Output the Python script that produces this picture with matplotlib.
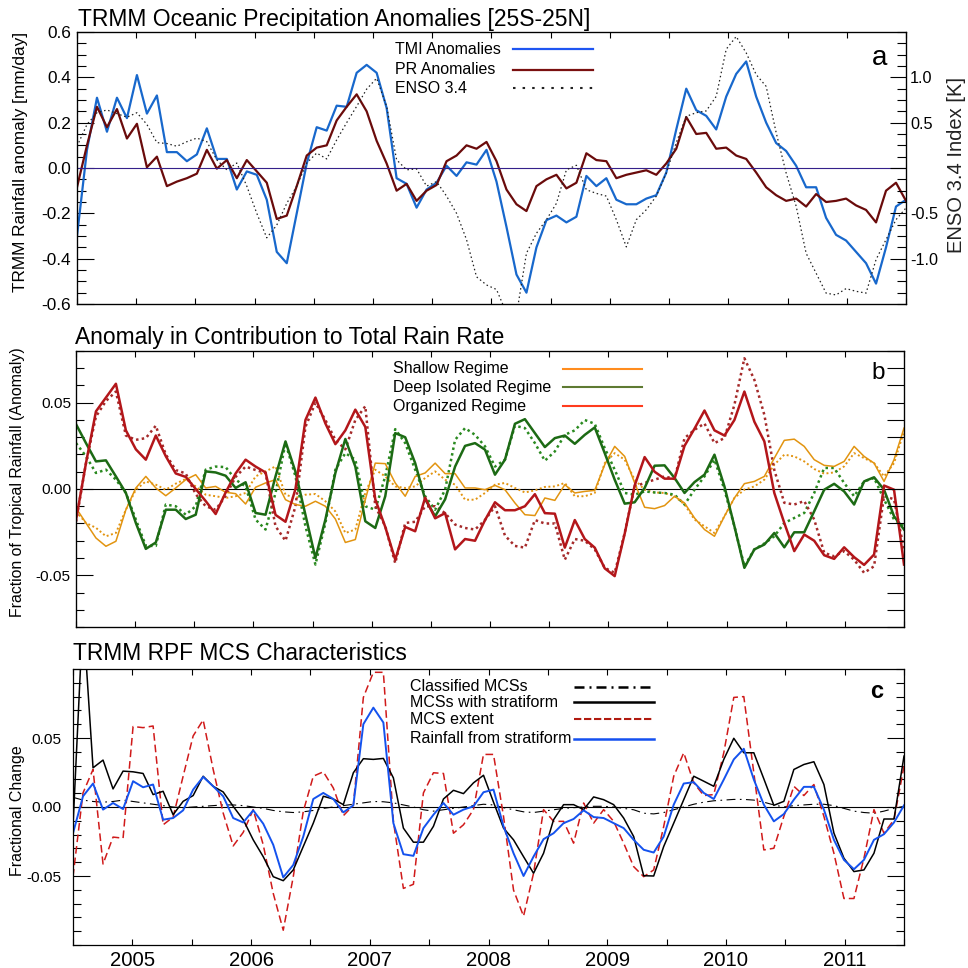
import numpy as np
import matplotlib
matplotlib.use("Agg")
import matplotlib.pyplot as plt
from matplotlib.ticker import MultipleLocator, FixedLocator, FuncFormatter

plt.rcParams['font.family'] = ['Liberation Sans', 'DejaVu Sans']
plt.rcParams['axes.unicode_minus'] = False

# ---- datos (anomalías mensuales, jul 2004 - jun 2011) ----
n_months = 84
years = [2005, 2006, 2007, 2008, 2009, 2010, 2011]

tmi = [-0.30, 0.08, 0.31, 0.16, 0.31, 0.22, 0.41, 0.24, 0.32, 0.07,
       0.07, 0.03, 0.06, 0.175, 0.04, 0.04, -0.095, -0.015, -0.03, -0.14,
       -0.37, -0.42, -0.20, 0.02, 0.18, 0.165, 0.275, 0.27, 0.42, 0.455,
       0.42, 0.265, -0.045, -0.07, -0.175, -0.095, -0.065, 0.01, -0.035, 0.025,
       0.015, 0.08, -0.06, -0.26, -0.47, -0.55, -0.35, -0.23, -0.21, -0.24,
       -0.215, -0.035, -0.08, -0.045, -0.14, -0.16, -0.16, -0.135, -0.12, -0.02,
       0.17, 0.35, 0.255, 0.23, 0.17, 0.315, 0.415, 0.47, 0.315, 0.20,
       0.11, 0.075, 0.01, -0.085, -0.085, -0.22, -0.295, -0.32, -0.37, -0.42,
       -0.51, -0.35, -0.17, -0.14]

pr = [-0.085, 0.10, 0.27, 0.18, 0.26, 0.13, 0.195, 0.003, 0.05, -0.08,
      -0.06, -0.045, -0.025, 0.08, -0.003, 0.035, -0.045, 0.035, -0.015, -0.065,
      -0.225, -0.21, -0.08, 0.055, 0.09, 0.10, 0.21, 0.27, 0.325, 0.25,
      0.12, 0.02, -0.10, -0.07, -0.145, -0.10, -0.075, 0.03, 0.055, 0.10,
      0.085, 0.115, 0.03, -0.095, -0.16, -0.19, -0.08, -0.05, -0.03, -0.09,
      -0.065, 0.065, 0.035, 0.03, -0.045, -0.03, -0.02, -0.01, -0.03, 0.02,
      0.085, 0.225, 0.15, 0.155, 0.085, 0.09, 0.055, 0.04, -0.02, -0.085,
      -0.12, -0.145, -0.135, -0.17, -0.115, -0.15, -0.145, -0.135, -0.165, -0.185,
      -0.24, -0.10, -0.065, -0.145]

enso = [0.24, 0.48, 0.61, 0.64, 0.60, 0.56, 0.61, 0.48, 0.28, 0.27,
        0.24, 0.29, 0.33, 0.29, 0.09, -0.02, 0.055, -0.20, -0.50, -0.77,
        -0.63, -0.39, -0.20, 0.055, 0.165, 0.10, 0.31, 0.50, 0.68, 0.87,
        0.99, 0.68, 0.09, -0.02, -0.01, -0.20, -0.15, -0.31, -0.50, -0.79,
        -1.20, -1.29, -1.34, -1.60, -1.62, -0.94, -0.72, -0.57, -0.39, -0.02,
        0.03, -0.24, -0.28, -0.31, -0.57, -0.87, -0.57, -0.46, -0.31, -0.055,
        0.28, 0.57, 0.61, 0.63, 0.79, 1.31, 1.45, 1.27, 1.03, 0.90,
        0.39, -0.055, -0.42, -0.94, -1.16, -1.38, -1.40, -1.33, -1.36, -1.38,
        -1.01, -0.79, -0.57, -0.44]

organized = [-0.018, 0.015, 0.045, 0.053, 0.061, 0.034, 0.023, 0.017, 0.031, 0.019,
             0.009, 0.007, 0.0, -0.007, -0.0145, -0.002, 0.009, 0.017, 0.013, 0.0096,
             -0.015, -0.019, 0.0, 0.040, 0.053, 0.038, 0.026, 0.034, 0.046, 0.036,
             -0.006, -0.022, -0.041, -0.022, -0.0245, -0.005, -0.017, -0.014, -0.035, -0.029,
             -0.030, -0.018, -0.0077, -0.0123, -0.0123, -0.010, -0.003, -0.014, -0.0143, -0.034,
             -0.018, -0.029, -0.034, -0.046, -0.0505, -0.026, 0.002, 0.0185, 0.010, 0.006,
             0.006, 0.025, 0.035, 0.0455, 0.034, 0.031, 0.040, 0.0565, 0.039, 0.0276,
             -0.0023, -0.0197, -0.036, -0.0264, -0.030, -0.0384, -0.0405, -0.0338, -0.0395, -0.044,
             -0.038, 0.002, -0.0004, -0.0438]

organized_dot = [-0.019, 0.015, 0.042, 0.051, 0.0565, 0.031, 0.0285, 0.0295, 0.0367, 0.020,
                 0.011, 0.009, -0.003, -0.010, -0.012, -0.004, 0.007, 0.013, 0.011, 0.0093,
                 -0.0216, -0.030, -0.010, 0.036, 0.050, 0.040, 0.0285, 0.023, 0.040, 0.048,
                 -0.010, -0.0216, -0.043, -0.0197, -0.019, -0.010, -0.010, -0.014, -0.0206, -0.0226,
                 -0.0235, -0.018, -0.010, -0.027, -0.033, -0.034, -0.018, -0.020, -0.020, -0.041,
                 -0.029, -0.030, -0.035, -0.0457, -0.0486, -0.0255, 0.0015, 0.0035, 0.0054, 0.0073,
                 0.0058, 0.0295, 0.0343, 0.038, 0.0266, 0.0295, 0.0488, 0.0758, 0.0633, 0.043,
                 0.011, -0.008, -0.009, -0.007, -0.0177, -0.037, -0.039, -0.036, -0.041, -0.0486,
                 -0.0448, -0.004, -0.006, -0.035]

deep = [0.0376, 0.0266, 0.016, 0.0166, 0.0073, -0.0023, -0.0197, -0.0347, -0.031, -0.012,
        -0.012, -0.0174, -0.0149, 0.0102, 0.0096, 0.0077, 0.0006, 0.0039, -0.0139, -0.0149,
        0.0073, 0.0276, 0.010, -0.015, -0.040, -0.0177, 0.0093, 0.029, 0.013, -0.0187,
        -0.0226, -0.0042, 0.0324, 0.030, 0.015, -0.006, -0.0158, -0.006, 0.013, 0.025,
        0.0266, 0.0228, 0.0083, 0.017, 0.0378, 0.0405, 0.0324, 0.0243, 0.0295, 0.031,
        0.0262, 0.0314, 0.0357, 0.0208, 0.0054, -0.0085, -0.0077, 0.0006, 0.0135, 0.0137,
        0.0064, -0.0023, 0.004, 0.0083, 0.0199, 0.0015, -0.0216, -0.0457, -0.035, -0.0322,
        -0.0255, -0.0338, -0.0251, -0.0251, -0.0129, -0.0004, 0.003, -0.0014, -0.009, 0.0044,
        0.0068, -0.0004, -0.0158, -0.0235]

deep_dot = [0.0266, 0.019, 0.0093, 0.0112, 0.0054, -0.0023, -0.0177, -0.033, -0.033, -0.009,
            -0.010, -0.0149, -0.010, 0.0112, 0.013, 0.0127, 0.0054, 0.0015, -0.0177, -0.0235,
            -0.0023, 0.0266, 0.0073, -0.0216, -0.0438, -0.0197, 0.0112, 0.0208, 0.017, -0.010,
            -0.012, 0.0073, 0.0347, 0.0266, 0.0112, -0.0042, -0.012, -0.0004, 0.0285, 0.0353,
            0.0314, 0.0247, 0.013, 0.017, 0.0367, 0.0353, 0.0266, 0.0164, 0.0218, 0.0314,
            0.034, 0.040, 0.0378, 0.0237, 0.0112, -0.0023, -0.0033, -0.0014, -0.002, -0.0023,
            -0.0033, -0.009, -0.0004, 0.0073, 0.017, -0.0004, -0.0216, -0.0448, -0.035, -0.0316,
            -0.0274, -0.0197, -0.0168, -0.0139, -0.0023, 0.0122, 0.0122, 0.0035, -0.0042, 0.0044,
            0.0064, -0.006, -0.0177, -0.0216]

shallow = [-0.011, -0.0197, -0.0284, -0.0332, -0.0303, -0.012, 0.0006, 0.0073, 0.0006, -0.0039,
           0.0006, 0.0054, 0.0083, 0.0006, 0.0015, -0.0019, -0.0027, -0.0087, 0.001, 0.0035,
           0.0054, -0.0062, -0.009, -0.010, -0.0071, -0.010, -0.0174, -0.031, -0.0293, -0.0062,
           0.015, 0.0147, 0.0035, -0.0042, 0.0073, 0.0093, 0.015, 0.0089, 0.0089, 0.0006,
           0.0006, -0.0004, 0.0021, -0.0004, -0.0081, -0.0149, -0.0154, -0.0052, -0.0066, 0.0025,
           -0.0023, -0.0014, -0.0008, 0.0141, 0.0247, 0.0189, 0.0035, -0.0106, -0.0114, -0.0096,
           -0.0042, -0.0081, -0.0168, -0.0235, -0.0274, -0.0158, -0.0052, 0.0031, 0.0044, 0.0073,
           0.0179, 0.0282, 0.0289, 0.0247, 0.017, 0.0137, 0.0131, 0.016, 0.0247, 0.0189,
           0.015, 0.0044, 0.017, 0.0353]

shallow_dot = [-0.013, -0.0197, -0.0225, -0.0274, -0.0255, -0.012, -0.0004, 0.0044, 0.0025, -0.0004,
               0.0031, 0.0058, 0.0015, -0.0033, -0.0042, -0.0052, -0.0042, -0.0023, 0.0073, 0.0102,
               0.0131, -0.0033, -0.0052, -0.0033, -0.0029, -0.0071, -0.013, -0.0255, -0.0235, -0.0023,
               0.0112, 0.0073, 0.0015, 0.0006, 0.0015, 0.0064, 0.0102, 0.0054, 0.0025, -0.0062,
               -0.0062, -0.0023, 0.0025, 0.0035, 0.0006, -0.002, -0.0008, 0.0012, 0.0015, 0.0035,
               -0.0042, -0.0042, -0.0023, 0.015, 0.0208, 0.017, 0.0054, -0.0004, -0.002, -0.0023,
               -0.0042, -0.009, -0.0177, -0.0216, -0.0255, -0.0158, -0.0052, -0.0004, 0.0015, 0.0054,
               0.0141, 0.0199, 0.0189, 0.016, 0.0116, 0.0089, 0.0096, 0.0131, 0.0208, 0.0179,
               0.015, 0.0073, 0.015, 0.0334]

classified = [0.007, 0.005, 0.004, 0.0035, 0.004, 0.005, 0.004, 0.003, 0.002, 0.001,
              0.0, -0.0005, 0.0, 0.0005, 0.001, 0.0015, 0.0015, 0.001, 0.0, -0.001,
              -0.0025, -0.0035, -0.004, -0.0035, -0.0025, -0.001, 0.0, 0.001, 0.002, 0.003,
              0.004, 0.0038, 0.003, 0.0015, 0.0, -0.002, -0.003, -0.002, -0.001, 0.0,
              0.001, 0.002, 0.0015, -0.0005, -0.002, -0.0035, -0.004, -0.003, -0.002, -0.001,
              -0.0005, 0.0, 0.0005, 0.0005, 0.0, -0.001, -0.002, -0.0045, -0.005, -0.004,
              -0.002, 0.0, 0.002, 0.0035, 0.0045, 0.005, 0.0055, 0.0055, 0.005, 0.0035,
              0.0015, 0.0, 0.001, 0.0015, 0.002, 0.002, 0.001, -0.001, -0.003, -0.004,
              -0.0045, -0.003, -0.001, 0.0005]

mcs_strat = [-0.014, 0.14, 0.0284, 0.034, 0.0131, 0.026, 0.0255, 0.0243, 0.009, 0.0114,
             -0.0056, 0.0041, 0.0083, 0.0223, 0.015, 0.0109, 0.0005, -0.0092, -0.0238, -0.036,
             -0.0505, -0.0534, -0.0456, -0.0286, -0.0117, 0.0078, 0.0058, 0.0017, 0.0248, 0.035,
             0.0345, 0.0352, 0.0211, -0.0153, -0.0255, -0.0255, -0.014, 0.0058, 0.0121, 0.0097,
             0.0175, 0.023, 0.0035, -0.0153, -0.0238, -0.036, -0.048, -0.0335, -0.0092, 0.0017,
             0.0017, -0.0019, 0.0073, 0.0053, 0.0017, -0.008, -0.0214, -0.0498, -0.05, -0.0286,
             -0.0117, 0.0053, 0.0223, 0.0187, 0.015, 0.0345, 0.0498, 0.0393, 0.0393, 0.0204,
             0.0012, 0.0041, 0.0272, 0.0308, 0.0328, 0.0163, -0.0189, -0.0371, -0.0468, -0.0456,
             -0.0335, -0.0087, -0.0087, 0.0369]

mcs_extent = [-0.0505, 0.0102, 0.0272, -0.0413, -0.0218, -0.0226, 0.0583, 0.0575, 0.0587, -0.0129,
              -0.0073, 0.0223, 0.0515, 0.0631, 0.0272, -0.0044, -0.0282, -0.0184, -0.0019, -0.0274,
              -0.0626, -0.0893, -0.0505, -0.0032, 0.0223, 0.0255, 0.0138, -0.0063, 0.0012, 0.0794,
              0.0976, 0.0976, -0.0104, -0.059, -0.056, 0.0102, 0.0248, 0.0243, -0.019, -0.0129,
              -0.0019, 0.0381, 0.0381, -0.0068, -0.0602, -0.0791, -0.048, -0.0019, -0.0104, -0.0104,
              -0.0262, 0.0029, -0.0117, -0.0019, -0.0104, -0.0262, -0.0432, -0.0505, -0.0456, -0.0141,
              0.0223, 0.0393, 0.0175, 0.0083, 0.009, 0.0393, 0.0794, 0.080, 0.0248, -0.0311,
              -0.0299, -0.0068, 0.015, 0.0083, 0.0163, -0.0068, -0.0335, -0.0663, -0.0663, -0.0371,
              -0.0019, -0.019, -0.0092, 0.0296]

rain_strat = [-0.019, 0.0078, 0.017, -0.0019, 0.0029, -0.0015, 0.0187, 0.0143, 0.0163, -0.0092,
              -0.008, -0.0024, 0.0126, 0.0218, 0.015, 0.0078, -0.008, -0.0112, -0.0024, -0.0121,
              -0.0274, -0.051, -0.042, -0.0214, 0.0058, 0.0102, 0.0058, -0.0039, 0.0012, 0.060,
              0.072, 0.0612, -0.0117, -0.0342, -0.0354, -0.0153, -0.0056, 0.0029, -0.0056, -0.0019,
              0.0005, 0.0107, 0.0126, -0.014, -0.0335, -0.05, -0.0359, -0.0233, -0.019, -0.0117,
              -0.0087, -0.0024, -0.0073, -0.008, -0.0117, -0.0153, -0.0238, -0.031, -0.033, -0.0214,
              0.0017, 0.017, 0.018, 0.0102, 0.0058, 0.0199, 0.0345, 0.0422, 0.0199, 0.0017,
              -0.0104, -0.0051, 0.0053, 0.0146, 0.0146, -0.0019, -0.0238, -0.0383, -0.0451, -0.0383,
              -0.0238, -0.0197, -0.0112, 0.0012]

t = np.linspace(2004.5, 2011.5, n_months)

fig = plt.figure(figsize=(9.68, 9.68), dpi=100)
W = H = 968.0


def caja(x0, x1, y0, y1):
    # píxeles -> fracción de figura
    return [x0 / W, 1 - y1 / H, (x1 - x0) / W, (y1 - y0) / H]


def eje_tiempo(ax, etiquetas=False):
    ax.set_xlim(2004.5, 2011.5)
    ax.xaxis.set_major_locator(FixedLocator(years))
    ax.xaxis.set_minor_locator(MultipleLocator(0.5))
    ax.tick_params(axis='x', which='both', direction='in', top=True, bottom=True,
                   length=4.3, width=0.8)
    if etiquetas:
        ax.set_xticklabels([str(y) for y in years], fontsize=14.6)
        ax.tick_params(axis='x', pad=4)
    else:
        ax.set_xticklabels([])
    for s in ax.spines.values():
        s.set_linewidth(0.9)


def leyenda(ax, x_txt, x0, x1, filas, fs=11.5):
    for y, texto, kw in filas:
        ax.text(x_txt, y, texto, transform=ax.transAxes, fontsize=fs, va='center', ha='left')
        ax.plot([x0, x1], [y, y], transform=ax.transAxes, clip_on=False, **kw)


# ---------------- a ----------------
ax = fig.add_axes(caja(77, 906, 32, 304))
ax.plot(t, tmi, color='#1868CC', lw=1.6)
ax.plot(t, pr, color='#6A0B0B', lw=1.6)
ax.axhline(0, color='#35208A', lw=0.8)
ax.set_ylim(-0.6, 0.6)
ax.yaxis.set_major_locator(MultipleLocator(0.2))
ax.yaxis.set_minor_locator(MultipleLocator(0.05))
ax.yaxis.set_major_formatter(FuncFormatter(lambda v, p: '%.1f' % v if abs(v) > 1e-9 else '0.0'))
ax.tick_params(axis='y', which='major', direction='in', length=12, width=0.8, labelsize=12.4, pad=4.5)
ax.tick_params(axis='y', which='minor', direction='in', length=6.2, width=0.8)
eje_tiempo(ax)

axr = ax.twinx()
axr.plot(t, enso, color='#202020', lw=0.9, linestyle=(0, (1.2, 2.2)))
axr.set_ylim(-1.5, 1.5)
axr.yaxis.set_major_locator(FixedLocator([-1.0, -0.5, 0.0, 0.5, 1.0]))
axr.yaxis.set_minor_locator(MultipleLocator(0.125))
axr.yaxis.set_major_formatter(FuncFormatter(lambda v, p: '' if abs(v) < 1e-9 else '%.1f' % v))
axr.tick_params(axis='y', which='major', direction='in', length=11.5, width=0.8, labelsize=11.7, pad=3)
axr.tick_params(axis='y', which='minor', direction='in', length=6.5, width=0.8)
axr.set_xlim(2004.5, 2011.5)

leyenda(ax, 0.3836, 0.526, 0.622, [
    (0.936, 'TMI Anomalies', dict(color='#1F55F2', lw=1.6)),
    (0.861, 'PR Anomalies', dict(color='#7A1010', lw=1.6)),
    (0.794, 'ENSO 3.4', dict(color='#222222', lw=1.5, linestyle=(0, (1.2, 3.4)))),
])
ax.text(0.9686, 0.904, 'a', transform=ax.transAxes, fontsize=20, ha='center', va='center')

fig.text(78 / W, 1 - 26 / H, 'TRMM Oceanic Precipitation Anomalies [25S-25N]',
         fontsize=16.5, ha='left', va='baseline')
fig.text(21 / W, 1 - 162 / H, 'TRMM Rainfall anomaly [mm/day]', rotation=90,
         fontsize=12.4, ha='center', va='center')
fig.text(956 / W, 1 - 165 / H, 'ENSO 3.4 Index [K]', rotation=90,
         fontsize=14.5, ha='center', va='center', color='#222222')

# ---------------- b ----------------
bx = fig.add_axes(caja(76, 904, 351, 627))
bx.axhline(0, color='black', lw=0.8)
c_sh, c_dp, c_or = '#E29410', '#1C6A14', '#B3161A'
bx.plot(t, shallow_dot, color=c_sh, lw=1.4, linestyle=(0, (1, 1.3)))
bx.plot(t, deep_dot, color='#2A8A20', lw=1.8, linestyle=(0, (1, 1.3)))
bx.plot(t, organized_dot, color='#A52A2A', lw=1.8, linestyle=(0, (1, 1.3)))
bx.plot(t, shallow, color=c_sh, lw=1.1)
bx.plot(t, deep, color=c_dp, lw=1.8)
bx.plot(t, organized, color=c_or, lw=1.8)
bx.set_ylim(-0.08, 0.08)
bx.yaxis.set_major_locator(FixedLocator([-0.05, 0.0, 0.05]))
bx.yaxis.set_minor_locator(MultipleLocator(0.01))
bx.yaxis.set_major_formatter(FuncFormatter(lambda v, p: '%.2f' % v if abs(v) > 1e-9 else '0.00'))
bx.tick_params(axis='y', which='major', direction='in', length=12, width=0.8, labelsize=11.1, pad=3.6)
bx.tick_params(axis='y', which='minor', direction='in', length=6, width=0.8)
eje_tiempo(bx)
bxr = bx.twinx()
bxr.set_ylim(-0.08, 0.08)
bxr.yaxis.set_major_locator(MultipleLocator(0.01))
bxr.yaxis.set_major_formatter(FuncFormatter(lambda v, p: ''))
bxr.tick_params(axis='y', direction='in', length=12, width=0.8)

leyenda(bx, 0.383, 0.588, 0.684, [
    (0.935, 'Shallow Regime', dict(color='#FF8C1E', lw=1.5)),
    (0.869, 'Deep Isolated Regime', dict(color='#5E7A32', lw=1.5)),
    (0.800, 'Organized Regime', dict(color='#FF3C1E', lw=1.5)),
])
bx.text(0.9686, 0.92, 'b', transform=bx.transAxes, fontsize=17.5, ha='center', va='center')
fig.text(75 / W, 1 - 344 / H, 'Anomaly in Contribution to Total Rain Rate',
         fontsize=16.4, ha='left', va='baseline')
fig.text(18 / W, 1 - 482 / H, 'Fraction of Tropical Rainfall (Anomaly)', rotation=90,
         fontsize=11.4, ha='center', va='center')

# ---------------- c ----------------
cx = fig.add_axes(caja(73, 904, 669, 945))
cx.axhline(0, color='black', lw=0.8)
cx.plot(t, classified, color='black', lw=0.8, linestyle=(0, (8, 4, 1.5, 4)))
cx.plot(t, mcs_extent, color='#D01A1A', lw=1.1, linestyle=(0, (5, 2.6)))
cx.plot(t, mcs_strat, color='black', lw=1.1)
cx.plot(t, rain_strat, color='#1452EE', lw=1.4)
cx.set_ylim(-0.1, 0.1)
cx.yaxis.set_major_locator(FixedLocator([-0.05, 0.0, 0.05]))
cx.yaxis.set_minor_locator(MultipleLocator(0.01))
cx.yaxis.set_major_formatter(FuncFormatter(lambda v, p: '%.2f' % v if abs(v) > 1e-9 else '0.00'))
cx.tick_params(axis='y', which='major', direction='in', length=12, width=0.8, labelsize=11.1,
               pad=8, right=True)
cx.tick_params(axis='y', which='minor', direction='in', length=6, width=0.8, right=True)
eje_tiempo(cx, etiquetas=True)

leyenda(cx, 0.4055, 0.603, 0.699, [
    (0.935, 'Classified MCSs', dict(color='black', lw=1.8, linestyle=(0, (4, 2, 0.8, 2)))),
    (0.879, 'MCSs with stratiform', dict(color='black', lw=1.8)),
    (0.818, 'MCS extent', dict(color='#B01A10', lw=1.5, linestyle=(0, (3.5, 1.3)))),
    (0.748, 'Rainfall from stratiform', dict(color='#1450F0', lw=1.8)),
])
cx.text(0.9675, 0.92, 'c', transform=cx.transAxes, fontsize=17, fontweight='bold',
        ha='center', va='center')
fig.text(73 / W, 1 - 660.5 / H, 'TRMM RPF MCS Characteristics',
         fontsize=16.4, ha='left', va='baseline')
fig.text(18 / W, 1 - 811 / H, 'Fractional Change', rotation=90,
         fontsize=11.5, ha='center', va='center')

fig.savefig('out.png', dpi=100)
